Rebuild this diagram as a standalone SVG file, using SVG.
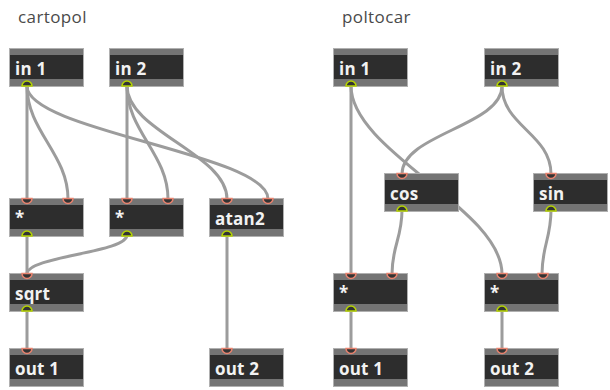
<svg xmlns="http://www.w3.org/2000/svg" width="610" height="390" viewBox="0 0 610 390">
<style>
.title{font-family:"Open Sans","Liberation Sans",sans-serif;font-size:17px;fill:#4a4a4a;letter-spacing:0.4px}
.lbl{font-family:"Open Sans","Liberation Sans",sans-serif;font-size:17px;font-weight:700;fill:#f2f2f2;letter-spacing:0.2px}
.frame{fill:#747474;stroke:#b0b0b0;stroke-width:1}
.body{fill:#2d2d2d}
.cord{fill:none;stroke:#9c9c9c;stroke-width:3;stroke-linecap:round}
.in{fill:#333;stroke:#e8826e;stroke-width:1.5}
.out{fill:#333;stroke:#b6d400;stroke-width:1.5}
</style>
<defs>
<g id="box">
<rect class="frame" x="0.5" y="0.5" width="74" height="38"/>
<rect class="body" x="1" y="7" width="73" height="24"/>
</g>
<path id="inl" class="in" d="M-5,0.5 A5,5 0 0 0 5,0.5 Z"/>
<path id="outl" class="out" d="M-5,38 A5,5 0 0 1 5,38 Z"/>
</defs>
<text class="title" x="18" y="23">cartopol</text>
<text class="title" x="342" y="23">poltocar</text>
<g id="connectors">
<path class="cord" d="M27,86 L27,199"/>
<path class="cord" d="M27,86 C27,131 68,154 68,199"/>
<path class="cord" d="M27,86 C27,131 268,154 268,199"/>
<path class="cord" d="M127,86 L127,199"/>
<path class="cord" d="M127,86 C127,131 168,154 168,199"/>
<path class="cord" d="M127,86 C127,131 227,154 227,199"/>
<path class="cord" d="M27,235 L27,274"/>
<path class="cord" d="M127,235 C127,253 27,256 27,274"/>
<path class="cord" d="M27,310 L27,349"/>
<path class="cord" d="M227,235 L227,349"/>
<path class="cord" d="M351,86 L351,274"/>
<path class="cord" d="M351,86 C351,151 502,209 502,274"/>
<path class="cord" d="M502,86 C502,126 402,134 402,174"/>
<path class="cord" d="M502,86 C502,126 551,134 551,174"/>
<path class="cord" d="M402,210 C402,238 392,246 392,274"/>
<path class="cord" d="M551,210 C551,238 542,246 542,274"/>
<path class="cord" d="M351,310 L351,349"/>
<path class="cord" d="M502,310 L502,349"/>
</g>
<g id="c_in1" transform="translate(9,48)"><use href="#box"/><use href="#outl" x="18"/><text class="lbl" x="6" y="27">in 1</text></g>
<g id="c_in2" transform="translate(109,48)"><use href="#box"/><use href="#outl" x="18"/><text class="lbl" x="6" y="27">in 2</text></g>
<g id="c_mul1" transform="translate(9,198)"><use href="#box"/><use href="#inl" x="18"/><use href="#inl" x="59"/><use href="#outl" x="18"/><text class="lbl" x="6" y="26">*</text></g>
<g id="c_mul2" transform="translate(109,198)"><use href="#box"/><use href="#inl" x="18"/><use href="#inl" x="59"/><use href="#outl" x="18"/><text class="lbl" x="6" y="26">*</text></g>
<g id="c_atan2" transform="translate(209,198)"><use href="#box"/><use href="#inl" x="18"/><use href="#inl" x="59"/><use href="#outl" x="18"/><text class="lbl" x="6" y="27">atan2</text></g>
<g id="c_sqrt" transform="translate(9,273)"><use href="#box"/><use href="#inl" x="18"/><use href="#outl" x="18"/><text class="lbl" x="6" y="27">sqrt</text></g>
<g id="c_out1" transform="translate(9,348)"><use href="#box"/><use href="#inl" x="18"/><text class="lbl" x="6" y="27">out 1</text></g>
<g id="c_out2" transform="translate(209,348)"><use href="#box"/><use href="#inl" x="18"/><text class="lbl" x="6" y="27">out 2</text></g>
<g id="p_in1" transform="translate(333,48)"><use href="#box"/><use href="#outl" x="18"/><text class="lbl" x="6" y="27">in 1</text></g>
<g id="p_in2" transform="translate(484,48)"><use href="#box"/><use href="#outl" x="18"/><text class="lbl" x="6" y="27">in 2</text></g>
<g id="p_cos" transform="translate(384,173)"><use href="#box"/><use href="#inl" x="18"/><use href="#outl" x="18"/><text class="lbl" x="6" y="27">cos</text></g>
<g id="p_sin" transform="translate(533,173)"><use href="#box"/><use href="#inl" x="18"/><use href="#outl" x="18"/><text class="lbl" x="6" y="27">sin</text></g>
<g id="p_mul1" transform="translate(333,273)"><use href="#box"/><use href="#inl" x="18"/><use href="#inl" x="59"/><use href="#outl" x="18"/><text class="lbl" x="6" y="26">*</text></g>
<g id="p_mul2" transform="translate(484,273)"><use href="#box"/><use href="#inl" x="18"/><use href="#inl" x="59"/><use href="#outl" x="18"/><text class="lbl" x="6" y="26">*</text></g>
<g id="p_out1" transform="translate(333,348)"><use href="#box"/><use href="#inl" x="18"/><text class="lbl" x="6" y="27">out 1</text></g>
<g id="p_out2" transform="translate(484,348)"><use href="#box"/><use href="#inl" x="18"/><text class="lbl" x="6" y="27">out 2</text></g>
</svg>
